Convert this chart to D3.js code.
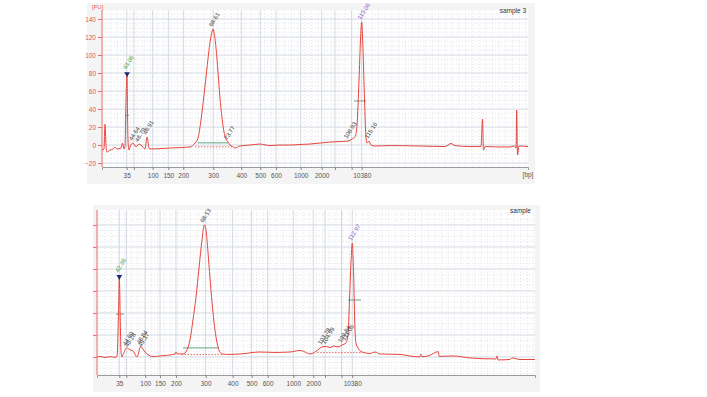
<!DOCTYPE html>
<html lang="en">
<head>
<meta charset="UTF-8">
<title>Electropherogram</title>
<script src="https://cdn.jsdelivr.net/npm/d3@7/dist/d3.min.js"></script>
<style>
  body{margin:0;background:#fff;}
  text{font-family:"Liberation Sans", Arial, sans-serif;}
  path.trace{fill:none;stroke:#e8453e;stroke-width:1;stroke-linejoin:round;}
  line.gridMajor{stroke:#d3d9e2;stroke-width:1;}
  line.gridMinor{stroke:#dde1e7;stroke-width:0.8;stroke-dasharray:1,2;}
  .tickLbl{font-size:6.5px;fill:#555;}
  .peakLbl{font-size:6px;}
</style>
</head>
<body>
<svg id="main" width="707" height="397"></svg>
<script>
// ladder: bp labels and their migration time (s) in each run
const ladderLabels = ["35", "", "100", "150", "200", "300", "400", "500", "600", "1000", "2000", "", "", "10380"];
const topLadderTime = [42.85, 45.00, 50.61, 55.27, 59.74, 68.70, 77.06, 82.73, 87.42, 94.79, 101.06, 105.03, 110.01, 113.00];
const bottomLadderTime = [42.36, 44.50, 50.23, 54.68, 59.53, 68.53, 76.71, 82.47, 87.32, 95.08, 101.14, 104.70, 109.70, 112.95];

const topYTicks = [-20, 0, 20, 40, 60, 80, 100, 120, 140];
const bottomYTicks = [0, 20, 40, 60, 80, 100, 120];

// sample 3 trace: time (s) / fluorescence (FU)
const topTime = [35.48,36.07,36.38,36.67,36.97,37.87,38.76,39.36,39.96,41.15,41.60,42.05,42.35,42.64,42.95,43.09,43.24,43.54,43.84,44.73,45.63,46.52,47.12,48.32,48.91,49.51,49.81,55.78,61.75,63.24,64.14,65.03,65.93,66.82,67.72,68.32,68.61,68.91,69.51,70.11,70.70,71.30,71.90,72.49,73.09,73.69,74.29,75.18,76.67,79.66,82.64,85.63,88.61,91.60,94.58,97.57,100.55,103.54,106.52,108.91,110.11,111.00,111.60,112.20,112.64,113.00,113.39,113.84,114.29,114.58,115.18,115.78,116.97,121.45,130.41,137.87,139.66,140.85,145.33,148.61,149.06,149.36,149.81,154.29,157.27,158.47,159.06,159.27,159.51,159.96,162.64];
const topFU = [-5.6,-4.4,23,0,-7.8,-5.6,-4.4,-2.2,-4.4,-3.3,2.2,-4.4,-1,50,78,39,5.6,-5.6,-2.2,2.2,-2,1,0,-4.4,9,-3.3,-4.4,-3.3,-2.2,2.2,7.8,27.8,55.6,85.6,114.4,125.6,128.9,125.6,107.8,81.1,52.2,30,14.4,6.7,3.3,0,-1.1,-3.3,-1.1,0,1.1,-0.6,0,0,0.6,1.1,2.2,3.3,3.9,4.4,6.7,8.9,22.2,72.2,116.7,136.7,105.6,50,7.8,2.2,4.4,0,-1.1,-0.6,-1.1,-1.7,1.7,-0.6,-1.7,-1.7,28.9,-5.6,-1.7,-2.2,-2.2,-1.1,-3.3,38.9,-11.1,-1.1,-1.7];

// sample trace
const bottomTime = [35.60,36.51,38.02,39.54,41.05,41.66,42.12,42.36,42.67,42.87,43.18,43.48,44.60,45.60,46.51,47.72,48.84,50.15,52.50,54.69,57.00,59.24,59.54,59.90,61.66,62.87,63.78,64.69,65.60,66.51,67.42,68.12,68.63,69.23,69.84,70.45,71.05,71.66,72.27,72.87,73.78,75.30,78.93,84.99,89.54,94.08,97.12,98.63,100.15,102.57,103.78,104.99,106.21,107.42,108.63,109.84,111.05,111.66,112.12,112.57,112.96,113.33,113.78,114.08,114.69,115.90,118.33,119.84,121.36,127.42,130.45,133.48,133.69,134.00,135.90,139.02,139.30,143.48,148.63,156.51,156.81,157.12,160.75,161.36,163.78,168.33];
const bottomFU = [0,0.5,-0.5,0.3,-0.3,0.5,40,72,30,5,0,2,8.2,6.5,5.5,0,9.4,4.5,0.3,0.9,1.5,2.7,4.5,2.8,2.7,6.4,15.5,33.6,54.5,80.9,106.4,120,115.5,95.5,71.8,50,31.8,18.2,9.1,4.5,2.7,2.3,2.7,4.5,4.1,4.5,5.9,4.5,2.7,6.4,9.1,9.5,8.6,10,9.1,10.9,12.7,20,51.8,86.4,103.6,78,24.5,12.7,8.2,4.5,3.2,4.5,2.7,2.3,0.9,0,2.7,0.3,0.9,4.8,0.5,0.9,-0.9,-1.8,0.9,-2.7,-2.3,-0.9,-2.3,-2.3];

// peak labels (migration time)
const topPeakTime = [42.95, 44.73, 46.52, 48.91, 68.61, 73.20, 108.91, 113.00, 115.18];
const topPeakFU = [78, 2.2, 1, 9, 128.9, 3, 4.4, 136.7, 4.4];
const topPeakText = ["43.06", "44.64", "46.79", "48.91", "68.61", "73.77", "108.93", "113.06", "115.16"];
const topPeakKind = ["lower", "peak", "peak", "peak", "peak", "peak", "peak", "upper", "peak"];

const bottomPeakTime = [42.36, 44.60, 45.30, 48.84, 49.40, 68.12, 103.78, 104.99, 109.84, 111.05, 112.96];
const bottomPeakFU = [72, 8.2, 7, 9.4, 7, 120, 9.1, 9.5, 10.9, 12.7, 103.6];
const bottomPeakText = ["42.36", "44.60", "45.28", "48.84", "49.37", "68.13", "103.78", "104.99", "109.84", "111.05", "112.97"];
const bottomPeakKind = ["lower", "peak", "peak", "peak", "peak", "peak", "peak", "peak", "peak", "peak", "upper"];

// peak width bars (start, end, FU level)
const topBarStart = [42.40, 64.14, 110.70];
const topBarEnd = [43.50, 73.09, 114.30];
const topBarFU = [33, 2.5, 49];
const bottomBarStart = [41.36, 61.66, 111.66];
const bottomBarEnd = [43.78, 72.57, 115.60];
const bottomBarFU = [39, 8.2, 51.8];

// integration baselines
const topBaseStart = [63.24];
const topBaseEnd = [74.29];
const topBaseFU = [-2];
const bottomBaseStart = [61.20, 102.30];
const bottomBaseEnd = [73.50, 115.90];
const bottomBaseFU = [2.2, 4.0];

const svg = d3.select('svg#main');
const kindColor = {lower: "#3da33d", upper: "#8d5bc9", peak: "#444"};

function drawPanel(p) {
    let g = svg.append('g');
    // panel background and plot area
    g.append('rect').attr('x', p.bg[0]).attr('y', p.bg[1])
        .attr('width', p.bg[2] - p.bg[0]).attr('height', p.bg[3] - p.bg[1])
        .attr('fill', '#f4f4f4');
    g.append('rect').attr('x', p.xr[0]).attr('y', p.yr[1])
        .attr('width', p.xr[1] - p.xr[0]).attr('height', p.yr[0] - p.yr[1])
        .attr('fill', '#fefefe');

    let x = d3.scaleLinear().domain(p.xd).range(p.xr);
    let y = d3.scaleLinear().domain(p.yd).range(p.yr);

    // grid
    let minorY = d3.range(Math.ceil(p.yd[0] / 5) * 5, p.yd[1], 5).filter(v => v % 20 != 0);
    g.selectAll('line.hmin').data(minorY).join('line').attr('class', 'gridMinor')
        .attr('x1', p.xr[0]).attr('x2', p.xr[1]).attr('y1', d => y(d)).attr('y2', d => y(d));
    let minorX = d3.range(Math.ceil(p.xd[0]), p.xd[1], 2);
    g.selectAll('line.vmin').data(minorX).join('line').attr('class', 'gridMinor')
        .attr('x1', d => x(d)).attr('x2', d => x(d)).attr('y1', p.yr[0]).attr('y2', p.yr[1]);
    g.selectAll('line.hmaj').data(p.yTicks).join('line').attr('class', 'gridMajor')
        .attr('x1', p.xr[0]).attr('x2', p.xr[1]).attr('y1', d => y(d)).attr('y2', d => y(d));
    g.selectAll('line.vmaj').data(p.ladderTime).join('line').attr('class', 'gridMajor')
        .attr('x1', d => x(d)).attr('x2', d => x(d)).attr('y1', p.yr[0]).attr('y2', p.yr[1]);

    // x axis (bp labels at ladder times)
    let xAxis = g.append('g').attr('transform', 'translate(0,' + p.yr[0] + ')')
        .call(d3.axisBottom(x).tickValues(p.ladderTime)
            .tickFormat((d, i) => ladderLabels[i]).tickSize(3).tickPadding(3));
    xAxis.select('.domain').attr('stroke', '#9a9a9a');
    xAxis.selectAll('.tick line').attr('stroke', '#888');
    xAxis.selectAll('.tick text').attr('class', 'tickLbl').attr('font-size', null).attr('font-family', null);

    // y axis
    let yAxis = g.append('g').attr('transform', 'translate(' + p.xr[0] + ',0)')
        .call(d3.axisLeft(y).tickValues(p.yTicks).tickSize(4).tickPadding(2)
            .tickFormat(p.yLabels ? d3.format('d') : ''));
    yAxis.select('.domain').attr('stroke', '#ee6a6a').attr('d', 'M0,' + p.yr[0] + 'V' + p.yr[1]);
    yAxis.selectAll('.tick line').attr('stroke', '#ee6a6a');
    yAxis.selectAll('.tick text').attr('class', 'tickLbl').attr('font-size', null)
        .attr('font-family', null).style('fill', '#e85555');

    // baselines and width bars
    p.baseStart.forEach((s, i) => {
        g.append('line').attr('x1', x(s)).attr('x2', x(p.baseEnd[i]))
            .attr('y1', y(p.baseFU[i])).attr('y2', y(p.baseFU[i]))
            .attr('stroke', '#e8453e').attr('stroke-width', 0.8).attr('stroke-dasharray', '1.5,1.5');
    });
    p.barStart.forEach((s, i) => {
        g.append('line').attr('x1', x(s)).attr('x2', x(p.barEnd[i]))
            .attr('y1', y(p.barFU[i])).attr('y2', y(p.barFU[i]))
            .attr('stroke', i == 0 && p.grayFirstBar ? '#9a9a9a' : '#82b89c').attr('stroke-width', 1.3);
    });

    // trace
    let line = d3.line().x(i => x(p.time[i])).y(i => y(p.fu[i])).curve(d3.curveMonotoneX);
    g.append('path').attr('class', 'trace').attr('d', line(d3.range(p.time.length)));

    // peak labels
    p.peakTime.forEach((t, i) => {
        let px = x(t), py = y(p.peakFU[i]);
        if (p.peakKind[i] == 'lower') {
            g.append('path').attr('d', d3.symbol(d3.symbolTriangle, 14)())
                .attr('transform', 'translate(' + px + ',' + (py - 1) + ') rotate(180)')
                .attr('fill', '#1d2a6b');
            py -= 3;
        }
        g.append('text').attr('class', 'peakLbl')
            .attr('transform', 'translate(' + (px - 1) + ',' + (py - 2) + ') rotate(-58)')
            .attr('fill', kindColor[p.peakKind[i]])
            .text(p.peakText[i]);
    });

    // titles
    g.append('text').attr('x', p.bg[2] - 9).attr('y', p.yr[1] + 3)
        .attr('text-anchor', 'end').attr('font-size', 6.5).attr('fill', '#333').text(p.title);
    if (p.yLabels) {
        g.append('text').attr('x', p.xr[0] - 10).attr('y', p.yr[1] - 1)
            .attr('font-size', 6).attr('fill', '#e85555').text('[FU]');
        g.append('text').attr('x', p.xr[1]).attr('y', p.yr[0] + 10)
            .attr('text-anchor', 'middle').attr('class', 'tickLbl').text('[bp]');
    }
}

drawPanel({
    bg: [87, 3, 535, 184], xr: [102, 528], yr: [167, 10],
    xd: [35.48, 162.64], yd: [-24.4, 150],
    yTicks: topYTicks, yLabels: true, ladderTime: topLadderTime,
    time: topTime, fu: topFU,
    peakTime: topPeakTime, peakFU: topPeakFU, peakText: topPeakText, peakKind: topPeakKind,
    barStart: topBarStart, barEnd: topBarEnd, barFU: topBarFU, grayFirstBar: true,
    baseStart: topBaseStart, baseEnd: topBaseEnd, baseFU: topBaseFU,
    title: 'sample 3'
});

drawPanel({
    bg: [93, 205, 540, 392], xr: [97, 535], yr: [375, 210],
    xd: [35.6, 168.33], yd: [-16.4, 133.6],
    yTicks: bottomYTicks, yLabels: false, ladderTime: bottomLadderTime,
    time: bottomTime, fu: bottomFU,
    peakTime: bottomPeakTime, peakFU: bottomPeakFU, peakText: bottomPeakText, peakKind: bottomPeakKind,
    barStart: bottomBarStart, barEnd: bottomBarEnd, barFU: bottomBarFU, grayFirstBar: false,
    baseStart: bottomBaseStart, baseEnd: bottomBaseEnd, baseFU: bottomBaseFU,
    title: 'sample'
});
</script>
</body>
</html>
